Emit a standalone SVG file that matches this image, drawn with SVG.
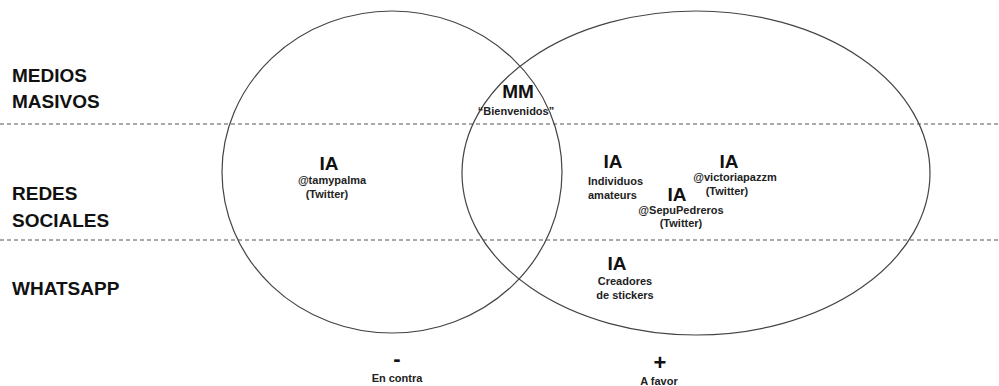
<svg xmlns="http://www.w3.org/2000/svg" width="999" height="386" viewBox="0 0 999 386">
<style>
.lbl{font-family:"Liberation Sans",Arial,sans-serif;font-weight:bold;font-size:19px;fill:#111}
.ia{font-family:"Liberation Sans",Arial,sans-serif;font-weight:bold;font-size:19px;fill:#111;text-anchor:middle}
.sm{font-family:"Liberation Sans",Arial,sans-serif;font-weight:bold;font-size:11px;fill:#222;text-anchor:middle}
.sym{font-family:"Liberation Sans",Arial,sans-serif;font-weight:bold;font-size:22px;fill:#111;text-anchor:middle}
.circ{fill:none;stroke:#444;stroke-width:1.2}
.dash{stroke:#555;stroke-width:1;stroke-dasharray:4 3}
</style>
<rect width="999" height="386" fill="#fff"/>
<g id="connectors">
<line class="dash" x1="0" y1="124" x2="999" y2="124"/>
<line class="dash" x1="0" y1="240" x2="999" y2="240"/>
</g>
<g id="circle-contra"><ellipse class="circ" cx="392" cy="172" rx="170" ry="161"/></g>
<g id="circle-favor"><ellipse class="circ" cx="696" cy="173" rx="234" ry="162"/></g>
<g id="row-labels">
<text class="lbl" x="12" y="82">MEDIOS</text>
<text class="lbl" x="12" y="108">MASIVOS</text>
<text class="lbl" x="12" y="200">REDES</text>
<text class="lbl" x="12" y="227">SOCIALES</text>
<text class="lbl" x="12" y="295">WHATSAPP</text>
</g>
<g id="mm">
<text class="ia" x="518" y="98" font-size="22">MM</text>
<text class="sm" x="516" y="115">“Bienvenidos”</text>
</g>
<g id="ia-tamypalma">
<text class="ia" x="329" y="170">IA</text>
<text class="sm" x="332" y="184">@tamypalma</text>
<text class="sm" x="327" y="198">(Twitter)</text>
</g>
<g id="ia-individuos">
<text class="ia" x="613" y="168">IA</text>
<text class="sm" x="588" y="185" style="text-anchor:start">Individuos</text>
<text class="sm" x="588" y="199" style="text-anchor:start">amateurs</text>
</g>
<g id="ia-victoriapazzm">
<text class="ia" x="729" y="168">IA</text>
<text class="sm" x="735" y="181">@victoriapazzm</text>
<text class="sm" x="727" y="195">(Twitter)</text>
</g>
<g id="ia-sepupedreros">
<text class="ia" x="677" y="201">IA</text>
<text class="sm" x="681" y="214">@SepuPedreros</text>
<text class="sm" x="681" y="227">(Twitter)</text>
</g>
<g id="ia-stickers">
<text class="ia" x="617" y="270">IA</text>
<text class="sm" x="625" y="285">Creadores</text>
<text class="sm" x="625" y="299">de stickers</text>
</g>
<g id="axis">
<text class="sym" x="397" y="366">-</text>
<text class="sm" x="397" y="382">En contra</text>
<text class="sym" x="660" y="370" font-size="24">+</text>
<text class="sm" x="659" y="385">A favor</text>
</g>
</svg>
